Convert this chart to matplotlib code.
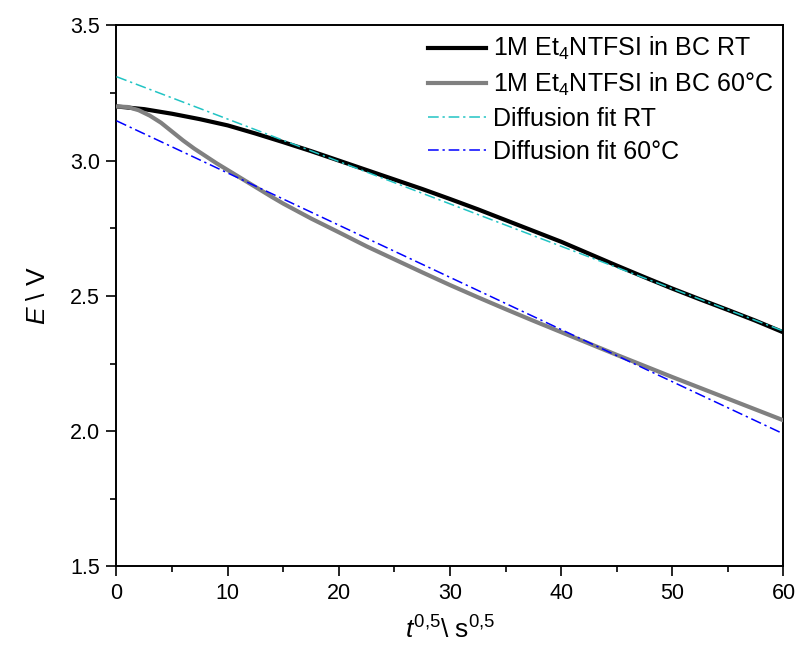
import matplotlib
matplotlib.use('Agg')
import matplotlib.pyplot as plt
import numpy as np
from matplotlib.ticker import MultipleLocator

plt.rcParams['font.family'] = ['Liberation Sans', 'DejaVu Sans']
plt.rcParams['mathtext.fontset'] = 'custom'
plt.rcParams['mathtext.rm'] = 'Liberation Sans'
plt.rcParams['mathtext.it'] = 'Liberation Sans:italic'

x_rt = [0, 2.5, 5, 7.5, 10, 12.5, 15, 17.5, 20, 22.5, 25, 27.5, 30, 32.5, 35,
        37.5, 40, 42.5, 45, 47.5, 50, 52.5, 55, 57.5, 60]
e_rt = [3.20, 3.19, 3.173, 3.153, 3.13, 3.10, 3.068, 3.035, 3.00, 2.965, 2.93,
        2.895, 2.858, 2.82, 2.78, 2.74, 2.70, 2.656, 2.612, 2.569, 2.527, 2.487,
        2.448, 2.408, 2.365]

x_60 = [0, 1, 2, 3, 4, 5, 6, 7, 8, 9, 10, 11, 12, 13, 14, 15, 17.5, 20, 22.5,
        25, 27.5, 30, 32.5, 35, 37.5, 40, 42.5, 45, 47.5, 50, 52.5, 55, 57.5, 60]
e_60 = [3.20, 3.198, 3.186, 3.166, 3.14, 3.107, 3.074, 3.044, 3.017, 2.99, 2.965,
        2.94, 2.915, 2.89, 2.865, 2.841, 2.786, 2.735, 2.683, 2.635, 2.587, 2.54,
        2.495, 2.451, 2.408, 2.366, 2.324, 2.282, 2.241, 2.20, 2.16, 2.12, 2.08, 2.04]

# diffusion fits (linear)
fit_x = [0, 60]
fit_rt = [3.31, 2.37]
fit_60 = [3.147, 1.99]

fig = plt.figure(figsize=(7.99, 6.53), dpi=100)
ax = fig.add_axes([0.1458, 0.1325, 0.8348, 0.8288])

ax.plot(x_rt, e_rt, color='black', lw=3, label=r'1M Et$_4$NTFSI in BC RT', zorder=3)
ax.plot(x_60, e_60, color='#808080', lw=3, label=r'1M Et$_4$NTFSI in BC 60°C', zorder=3)
ax.plot(fit_x, fit_rt, color='#22C4C4', lw=1.1, dashes=(7, 2.5, 1.5, 2.5), label='Diffusion fit RT', zorder=4)
ax.plot(fit_x, fit_60, color='#0000FF', lw=1.1, dashes=(7, 2.5, 1.5, 2.5), label='Diffusion fit 60°C', zorder=4)

ax.set_xlim(0, 60)
ax.set_ylim(1.5, 3.5)
ax.xaxis.set_major_locator(MultipleLocator(10))
ax.xaxis.set_minor_locator(MultipleLocator(5))
ax.yaxis.set_major_locator(MultipleLocator(0.5))
ax.yaxis.set_minor_locator(MultipleLocator(0.25))
ax.yaxis.set_major_formatter(plt.FormatStrFormatter('%.1f'))
ax.tick_params(which='major', direction='out', length=7, width=1.2, labelsize=15.5, pad=5)
ax.tick_params(which='minor', direction='out', length=4, width=1.2)
ax.tick_params(top=False, right=False, which='both')
for s in ax.spines.values():
    s.set_linewidth(1.4)

ax.set_xlabel(r'$\mathit{t}^{\mathit{0{,}5}}$\ s$^{0{,}5}$', fontsize=19, labelpad=9)
ax.set_ylabel(r'$\mathit{E}$ \ V', fontsize=19, labelpad=14)

ax.legend(loc='upper right', frameon=False, fontsize=18, handlelength=2.3,
          handletextpad=0.3, labelspacing=0.35, borderaxespad=0.0)

plt.savefig('out.png', dpi=100)
